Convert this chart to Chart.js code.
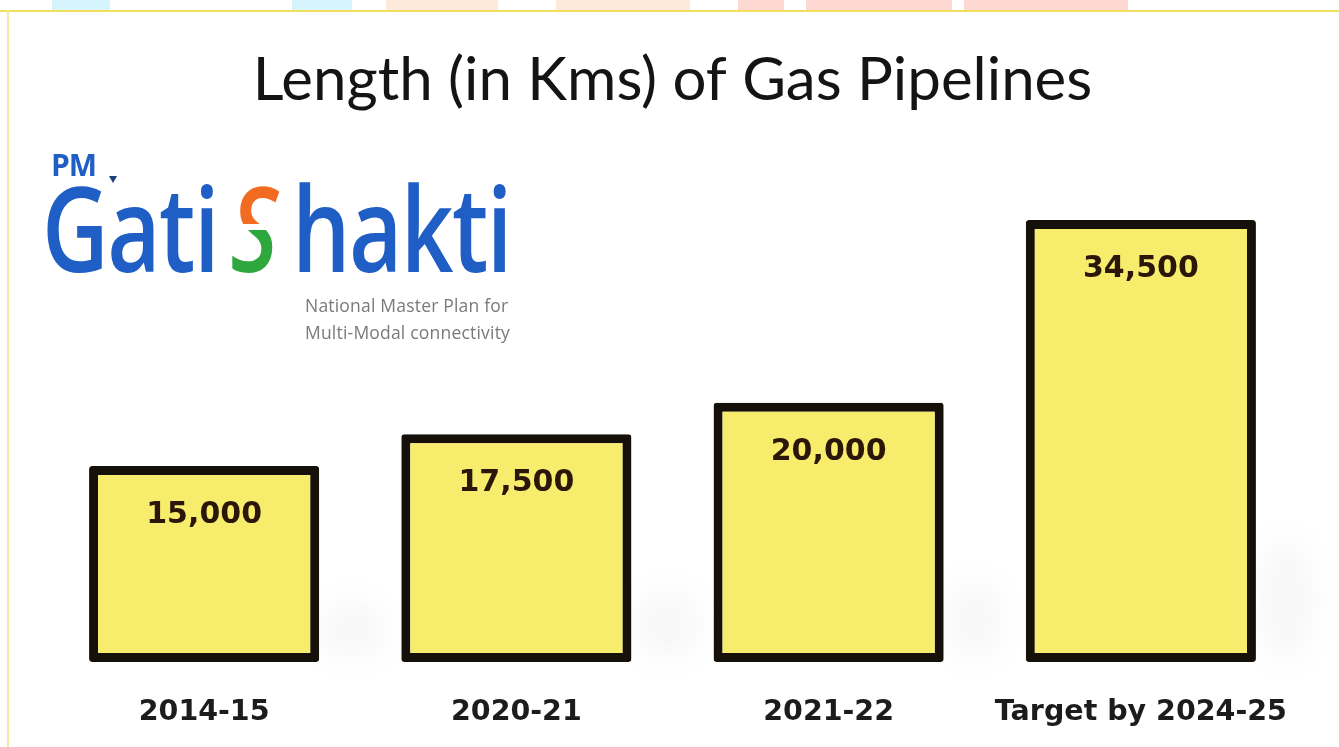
<!DOCTYPE html>
<html>
<head>
<meta charset="utf-8">
<script src="https://cdn.jsdelivr.net/npm/chart.js@4.4.1/dist/chart.umd.min.js"></script>
<style>
  html, body { margin: 0; padding: 0; background: #ffffff; }
  #wrap { position: relative; width: 1339px; height: 747px; overflow: hidden; background: #ffffff; }
  .blob { position: absolute; top: 0; height: 10px; }
  .shadow { position: absolute; border-radius: 50%; background: rgba(120,120,120,0.055); filter: blur(12px); }
  #frameTop { position: absolute; left: 0; top: 10px; width: 1339px; height: 2px; background: #f3e05a; }
  #frameLeft { position: absolute; left: 7px; top: 10px; width: 2px; height: 737px; background: #f6e9a6; }
  #chartBox { position: absolute; left: 0; top: 0; width: 1339px; height: 747px; }
  .logo { position: absolute; font-family: "Open Sans", sans-serif; color: #1f5ec4; white-space: nowrap; }
  #pm { left: 51px; top: 144px; font-size: 30px; font-weight: 700; letter-spacing: -1px; }
  #pmTri { position: absolute; left: 109px; top: 176px; width: 0; height: 0; border-left: 4px solid transparent; border-right: 4px solid transparent; border-top: 7px solid #1b3f7a; }
  #gs { left: 42px; top: 156px; font-size: 118px; font-weight: 600; transform-origin: 0 0; transform: scaleX(0.78); letter-spacing: -2px; line-height: 1.2; }
  #gs .s { display: inline-block; padding: 0 20px 0 16px; font-style: italic; background: linear-gradient(180deg, #f26b21 0%, #f26b21 48%, #ffffff 48%, #ffffff 52%, #2ea83c 52%, #2ea83c 100%); -webkit-background-clip: text; background-clip: text; color: transparent; }
  #sub { position: absolute; left: 305px; top: 292px; font-family: "Open Sans", sans-serif; font-size: 17.5px; color: #7a7a7a; line-height: 27px; letter-spacing: 0.2px; }
</style>
</head>
<body>
<div id="wrap">
  <div class="blob" style="left:52px;width:58px;background:#d6f4fb"></div>
  <div class="blob" style="left:292px;width:60px;background:#d6f4fb"></div>
  <div class="blob" style="left:386px;width:112px;background:#feeadb"></div>
  <div class="blob" style="left:556px;width:134px;background:#feeadb"></div>
  <div class="blob" style="left:738px;width:46px;background:#fed8d2"></div>
  <div class="blob" style="left:806px;width:146px;background:#fed8d2"></div>
  <div class="blob" style="left:964px;width:164px;background:#fed8d2"></div>
  <div class="shadow" style="left:318px;top:600px;width:70px;height:60px"></div>
  <div class="shadow" style="left:632px;top:590px;width:70px;height:70px"></div>
  <div class="shadow" style="left:944px;top:580px;width:60px;height:80px"></div>
  <div class="shadow" style="left:1256px;top:540px;width:60px;height:120px"></div>
  <div id="frameTop"></div>
  <div id="frameLeft"></div>
  <div id="chartBox"><canvas id="c" width="1339" height="747"></canvas></div>
  <div class="logo" id="pm">PM</div>
  <div id="pmTri"></div>
  <div class="logo" id="gs">Gati<span class="s">S</span>hakti</div>
  <div id="sub">National Master Plan for<br>Multi-Modal connectivity</div>
</div>
<script>
// ---- data ----
const categories = ["2014-15", "2020-21", "2021-22", "Target by 2024-25"];
const pipelineKm = [15000, 17500, 20000, 34500];
const chartTitle = "Length (in Kms) of Gas Pipelines";
const axisMin = -550;
const axisMax = 40000;

const valueLabels = {
  id: 'valueLabels',
  afterDatasetsDraw(chart) {
    const ctx = chart.ctx;
    const meta = chart.getDatasetMeta(0);
    ctx.save();
    ctx.font = 'bold 30px "DejaVu Sans", sans-serif';
    ctx.fillStyle = '#2a170a';
    ctx.textAlign = 'center';
    ctx.textBaseline = 'middle';
    meta.data.forEach((bar, i) => {
      const v = chart.data.datasets[0].data[i];
      ctx.fillText(v.toLocaleString('en-US'), bar.x, bar.y + 49);
    });
    ctx.restore();
  }
};

new Chart(document.getElementById('c'), {
  type: 'bar',
  data: {
    labels: categories,
    datasets: [{
      data: pipelineKm,
      base: axisMin,
      backgroundColor: '#f7ec6c',
      borderColor: '#15100a',
      borderWidth: 9,
      borderSkipped: false,
      borderRadius: 3,
      categoryPercentage: 1,
      barPercentage: 0.737
    }]
  },
  options: {
    responsive: false,
    animation: false,
    layout: { padding: { left: 48, right: 42, top: 0, bottom: 19 } },
    plugins: {
      legend: { display: false },
      tooltip: { enabled: false },
      title: {
        display: true,
        text: chartTitle,
        color: '#141414',
        font: { family: 'Lato, "Open Sans", sans-serif', size: 60, weight: 'normal', lineHeight: 1.2 },
        padding: { top: 45, bottom: 33.6 }
      }
    },
    scales: {
      x: {
        grid: { display: false, drawTicks: false },
        border: { display: false },
        afterFit(scale) { scale.height = 66; },
        ticks: {
          color: '#1c1c1c',
          padding: 33,
          maxRotation: 0,
          minRotation: 0,
          autoSkip: false,
          font: { family: '"DejaVu Sans", sans-serif', size: 28.5, weight: 'bold', lineHeight: 1.2 }
        }
      },
      y: {
        display: false,
        min: axisMin,
        max: axisMax
      }
    }
  },
  plugins: [valueLabels]
});
</script>
</body>
</html>
